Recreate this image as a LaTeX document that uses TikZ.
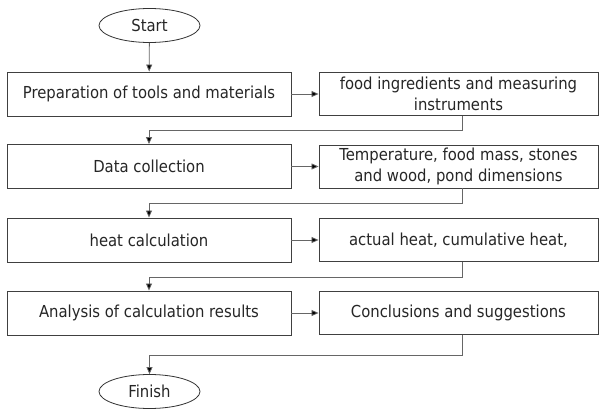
\documentclass[tikz,border=0pt]{standalone}
\usepackage{fontspec}
\setmainfont{DejaVu Sans Condensed}
\usetikzlibrary{arrows.meta,shapes.geometric}
\begin{document}
\begin{tikzpicture}[x=1pt,y=-1pt,
  txt/.style={font=\fontsize{16.5}{21.5}\selectfont, text=black!85},
  lbox/.style={draw=black!75, line width=0.9pt, minimum width=284pt, minimum height=44pt, inner sep=0pt, align=center, txt},
  rbox/.style={draw=black!75, line width=0.9pt, minimum width=279pt, minimum height=43pt, inner sep=0pt, align=center, txt},
  term/.style={ellipse, draw=black!80, line width=0.8pt, minimum width=101pt, minimum height=34pt, inner sep=0pt, txt},
  conn/.style={draw=black!60, line width=0.8pt},
  arr/.style={conn, -{Triangle[length=7pt,width=6pt,fill=black]}}
]
\useasboundingbox (0,0) rectangle (599,409);

\node[term] (start) at (149.5,25.5) {Start};
\node[lbox] (l1) at (149,94) {Preparation of tools and materials};
\node[lbox] (l2) at (149,166.5) {Data collection};
\node[lbox] (l3) at (149,240) {heat calculation};
\node[lbox] (l4) at (149,313) {Analysis of calculation results};
\node[term] (finish) at (149.5,391.5) {Finish};

\node[rbox] (r1) at (458.5,94) {food ingredients and measuring\\instruments};
\node[rbox] (r2) at (458.5,166.5) {Temperature, food mass, stones\\and wood, pond dimensions};
\node[rbox] (r3) at (458.5,240) {actual heat, cumulative heat,};
\node[rbox] (r4) at (458.5,313) {Conclusions and suggestions};

\draw[arr] (start) -- (l1);
\foreach \i in {1,2,3,4}{
  \draw[arr] (l\i.east) -- (r\i.west);
}
\coordinate (c1) at ([xshift=3.5pt]r1.south);
\coordinate (c2) at ([xshift=3.5pt]r2.south);
\coordinate (c3) at ([xshift=3.5pt]r3.south);
\coordinate (c4) at ([xshift=3.5pt]r4.south);
\draw[arr] (c1) -- ++(0,14) -| (l2.north);
\draw[arr] (c2) -- ++(0,14.5) -| (l3.north);
\draw[arr] (c3) -- ++(0,15) -| (l4.north);
\draw[arr] (c4) -- ++(0,20) -| (finish.north);
\end{tikzpicture}
\end{document}
